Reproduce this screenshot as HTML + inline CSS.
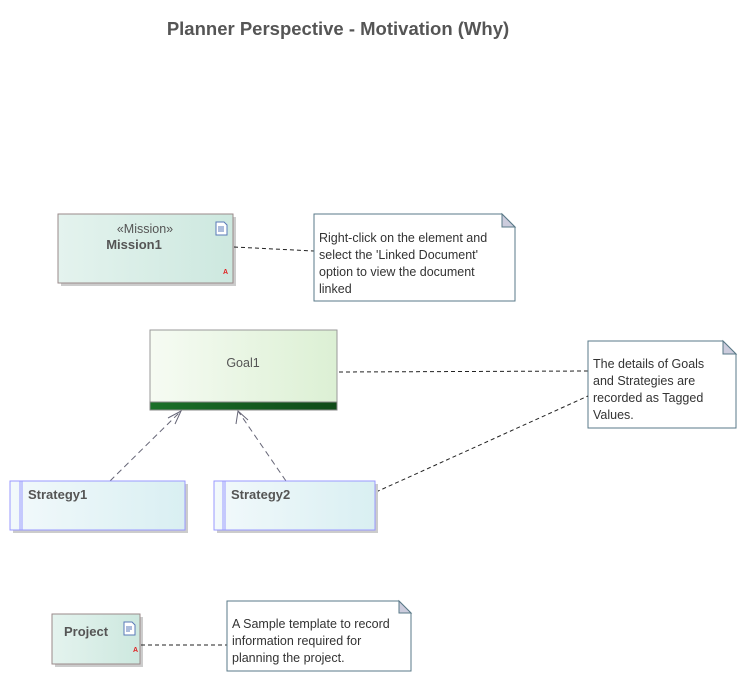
<!DOCTYPE html>
<html><head><meta charset="utf-8"><style>
html,body{margin:0;padding:0;background:#fff}
svg{display:block}
text{font-family:"Liberation Sans",sans-serif}
</style></head><body>
<svg width="745" height="681" viewBox="0 0 745 681" xmlns="http://www.w3.org/2000/svg">
<defs>
<linearGradient id="gm" x1="0" x2="1"><stop offset="0" stop-color="#e4f3ee"/><stop offset="1" stop-color="#cde8df"/></linearGradient>
<linearGradient id="gg" x1="0" x2="1"><stop offset="0" stop-color="#f6fbf3"/><stop offset="1" stop-color="#dcf0d4"/></linearGradient>
<linearGradient id="gb" x1="0" x2="1"><stop offset="0" stop-color="#1a7028"/><stop offset="1" stop-color="#0f4a18"/></linearGradient>
<linearGradient id="gs" x1="0" x2="1"><stop offset="0" stop-color="#f2f9fb"/><stop offset="1" stop-color="#d9eff2"/></linearGradient>
</defs>
<text x="338" y="35" text-anchor="middle" font-size="18.5" font-weight="bold" fill="#555">Planner Perspective - Motivation (Why)</text>

<rect x="61" y="217" width="175" height="69" fill="#ccc"/>
<rect x="58" y="214" width="175" height="69" fill="url(#gm)" stroke="#9a8a8a"/>
<text x="145" y="233" text-anchor="middle" font-size="12.5" fill="#555">«Mission»</text>
<text x="134" y="249" text-anchor="middle" font-size="13" font-weight="bold" fill="#555">Mission1</text>
<path d="M216 222h8l3 3v10h-11z" fill="#fff" stroke="#5a7ab8"/>
<path d="M218 227h6M218 229h6M218 231h6" stroke="#5a7ab8"/>
<text x="223" y="274" font-size="7" font-weight="bold" fill="#e02020">A</text>
<line x1="234" y1="247" x2="314" y2="251" stroke="#222" stroke-dasharray="4,3"/>

<path d="M314 214h188l13 13v74h-201z" fill="#fff" stroke="#5a7a88"/>
<path d="M502 214v13h13z" fill="#ccd" stroke="#5a7a88"/>
<text font-size="12.5" fill="#333"><tspan x="319" y="242">Right-click on the element and</tspan><tspan x="319" y="259">select the 'Linked Document'</tspan><tspan x="319" y="276">option to view the document</tspan><tspan x="319" y="293">linked</tspan></text>

<rect x="150" y="330" width="187" height="80" fill="url(#gg)" stroke="#999"/>
<rect x="150" y="402" width="187" height="8" fill="url(#gb)" stroke="#888"/>
<text x="243" y="367" text-anchor="middle" font-size="12.5" fill="#555">Goal1</text>
<line x1="339" y1="372" x2="588" y2="371" stroke="#222" stroke-dasharray="4,3"/>

<path d="M588 341h135l13 13v74h-148z" fill="#fff" stroke="#5a7a88"/>
<path d="M723 341v13h13z" fill="#ccd" stroke="#5a7a88"/>
<text font-size="12.5" fill="#333"><tspan x="593" y="368">The details of Goals</tspan><tspan x="593" y="385">and Strategies are</tspan><tspan x="593" y="402">recorded as Tagged</tspan><tspan x="593" y="419">Values.</tspan></text>
<line x1="376" y1="492" x2="588" y2="396" stroke="#222" stroke-dasharray="4,3"/>

<g stroke="#667" fill="none" stroke-dasharray="6,4">
<line x1="110" y1="481" x2="181" y2="411"/>
<line x1="286" y1="481" x2="238" y2="411"/>
</g>
<g stroke="#667" fill="none">
<path d="M168 418l13-7-6 13"/>
<path d="M236 424l2-13 10 9"/>
</g>

<rect x="13" y="484" width="175" height="49" fill="#ccc"/>
<rect x="10" y="481" width="175" height="49" fill="url(#gs)" stroke="#99f"/>
<line x1="20" y1="481" x2="20" y2="530" stroke="#99f"/><line x1="22" y1="481" x2="22" y2="530" stroke="#99f"/>
<text x="28" y="499" font-size="13" font-weight="bold" fill="#555">Strategy1</text>
<rect x="217" y="484" width="161" height="49" fill="#ccc"/>
<rect x="214" y="481" width="161" height="49" fill="url(#gs)" stroke="#99f"/>
<line x1="223" y1="481" x2="223" y2="530" stroke="#99f"/><line x1="225" y1="481" x2="225" y2="530" stroke="#99f"/>
<text x="231" y="499" font-size="13" font-weight="bold" fill="#555">Strategy2</text>

<rect x="55" y="617" width="88" height="50" fill="#ccc"/>
<rect x="52" y="614" width="88" height="50" fill="url(#gm)" stroke="#9a8a8a"/>
<text x="64" y="636" font-size="13" font-weight="bold" fill="#555">Project</text>
<path d="M124 622h8l3 3v10h-11z" fill="#fff" stroke="#5a7ab8"/>
<path d="M126 627h6M126 629h6M126 631h4" stroke="#5a7ab8"/>
<text x="133" y="652" font-size="7" font-weight="bold" fill="#e02020">A</text>
<line x1="141" y1="645" x2="227" y2="645" stroke="#222" stroke-dasharray="4,3"/>

<path d="M227 601h172l12 12v58h-184z" fill="#fff" stroke="#5a7a88"/>
<path d="M399 601v12h12z" fill="#ccd" stroke="#5a7a88"/>
<text font-size="12.5" fill="#333"><tspan x="232" y="628">A Sample template to record</tspan><tspan x="232" y="645">information required for</tspan><tspan x="232" y="662">planning the project.</tspan></text>
</svg>
</body></html>
